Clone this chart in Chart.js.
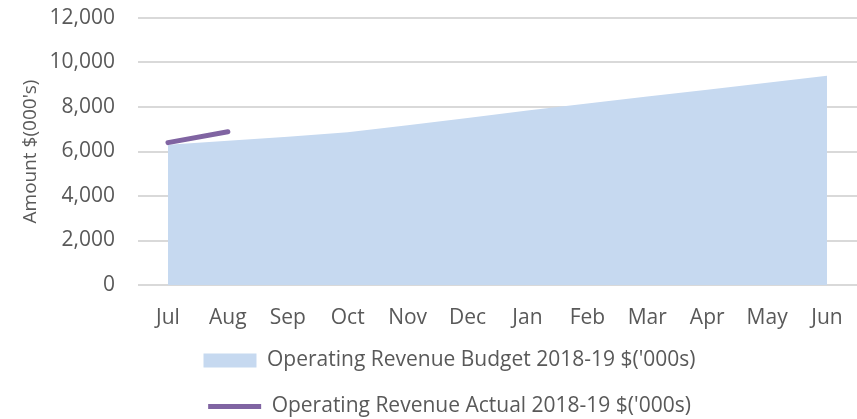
<!DOCTYPE html>
<html>
<head>
  <title>Operating Revenue 2018-19</title>
  <script src="https://cdn.jsdelivr.net/npm/chart.js"></script>
  <style>
    html, body { margin: 0; padding: 0; background: #fff; }
    #chart-container { width: 857px; height: 419px; }
  </style>
</head>
<body>
  <div id="chart-container">
    <canvas id="chart"></canvas>
  </div>
  <script>
    const months = ['Jul', 'Aug', 'Sep', 'Oct', 'Nov', 'Dec', 'Jan', 'Feb', 'Mar', 'Apr', 'May', 'Jun'];
    const budget = [6300, 6480, 6660, 6860, 7180, 7510, 7840, 8160, 8470, 8780, 9090, 9400];
    const actual = [6400, 6890, null, null, null, null, null, null, null, null, null, null];

    const TEXT = '#595959';
    const GRID = '#d9d9d9';
    Chart.defaults.font.family = '"Open Sans", Lato, sans-serif';
    Chart.defaults.color = TEXT;

    // nudge the legend so the two rows sit where the original has them
    const legendShift = {
      id: 'legendShift',
      afterLayout(chart) {
        const lg = chart.legend;
        lg.top -= 6;
        lg.bottom -= 6;
        lg.left += 14;
        lg.right += 14;
      }
    };

    const chart = new Chart(document.getElementById('chart'), {
      type: 'line',
      data: {
        labels: months,
        datasets: [{
          label: "Operating Revenue Budget 2018-19 $('000s)",
          data: budget,
          fill: 'origin',
          backgroundColor: 'rgb(198, 217, 240)',
          borderColor: 'rgb(198, 217, 240)',
          borderWidth: 0,
          pointRadius: 0,
          pointStyle: 'rect',
          tension: 0,
          order: 2
        }, {
          label: "Operating Revenue Actual 2018-19 $('000s)",
          data: actual,
          fill: false,
          borderColor: 'rgb(128, 100, 162)',
          backgroundColor: 'rgb(128, 100, 162)',
          borderWidth: 5,
          borderCapStyle: 'round',
          pointRadius: 0,
          pointStyle: 'line',
          tension: 0,
          order: 1
        }]
      },
      options: {
        responsive: true,
        maintainAspectRatio: false,
        animation: false,
        layout: { padding: { top: 18, right: 0, left: 14, bottom: -14 } },
        plugins: {
          tooltip: { enabled: false },
          legend: {
            position: 'bottom',
            labels: {
              usePointStyle: true,
              pointStyleWidth: 53,
              boxHeight: 14,
              padding: 25,
              font: { size: 21 },
              color: TEXT,
              sort: (a, b) => a.datasetIndex - b.datasetIndex
            }
          }
        },
        scales: {
          x: {
            offset: true,
            grid: { display: false, tickLength: 20 },
            border: { color: GRID },
            ticks: { font: { size: 21 }, color: TEXT, padding: 0, maxRotation: 0 },
            afterFit: (scale) => { scale.height = 46; }
          },
          y: {
            min: 0,
            max: 12000,
            ticks: {
              stepSize: 2000,
              font: { size: 21 },
              color: TEXT,
              padding: 3,
              callback: (v) => v.toLocaleString('en-US')
            },
            grid: { color: GRID, lineWidth: 2, drawTicks: true, tickLength: 20, tickColor: 'rgba(0,0,0,0)' },
            border: { display: false },
            title: {
              display: true,
              text: "Amount $(000's)",
              font: { size: 19 },
              color: TEXT,
              padding: { top: 5, bottom: 0 }
            },
            afterFit: (scale) => { scale.width = 124; }
          }
        }
      },
      plugins: [legendShift]
    });
  </script>
</body>
</html>
